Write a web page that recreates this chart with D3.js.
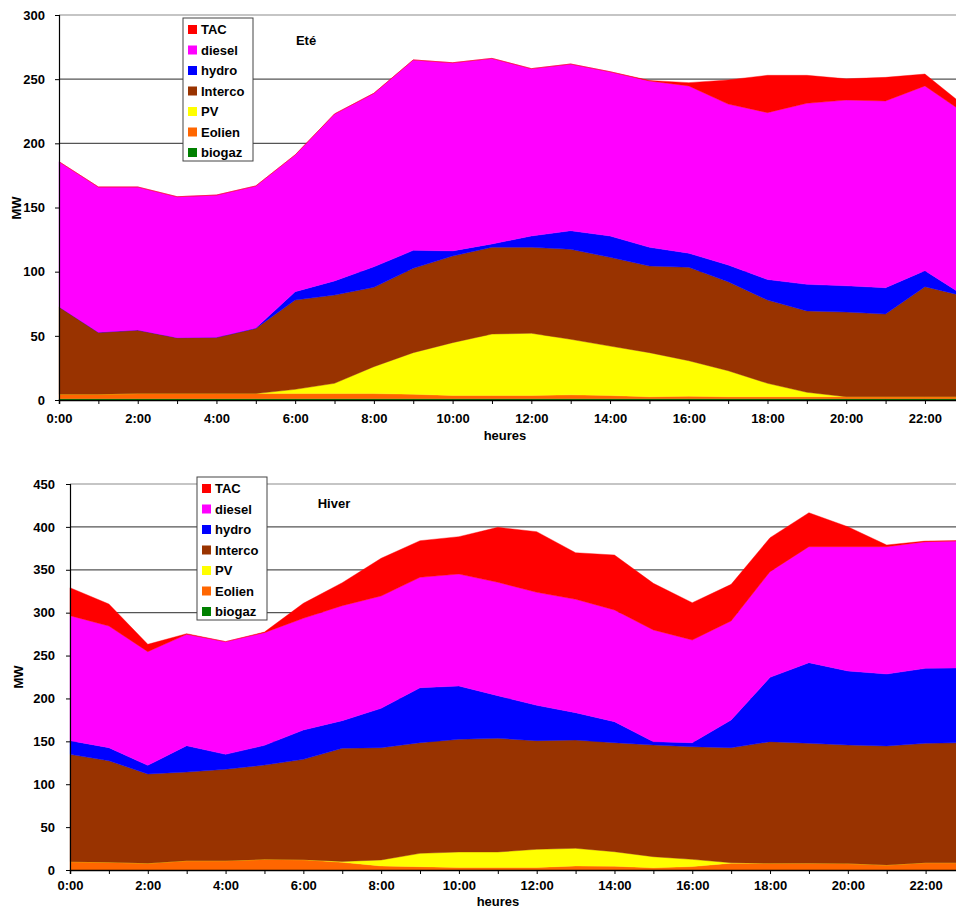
<!DOCTYPE html>
<html><head><meta charset="utf-8">
<script src="https://cdn.jsdelivr.net/npm/d3@7"></script>
<style>
html,body{margin:0;padding:0;background:#fff;}
text{font-family:"Liberation Sans",Arial,sans-serif;font-weight:bold;}
</style></head>
<body>
<svg id="c" width="956" height="908"></svg>
<script>
const hours = d3.range(0, 24);
const hourLabels = ["0:00","2:00","4:00","6:00","8:00","10:00","12:00","14:00","16:00","18:00","20:00","22:00"];
const seriesNames = ["TAC","diesel","hydro","Interco","PV","Eolien","biogaz"];
const seriesColors = ["#FF0000","#FF00FF","#0000FF","#993300","#FFFF00","#FF6600","#008000"];

// Été
const eteBiogaz = [1,1,1,1,1,1,1,1,1,1,1,1,1,1,1,1,1,1,1,1,1,1,1,1];
const eteEolien = [3.4,3.4,4,4,4,4,4,4,4,3.5,2.5,2.5,2.5,3,2.5,1.5,2,1.5,1.5,1.5,1.5,1.5,1.5,1.5];
const etePV = [0,0,0,0,0,0,3.3,8,21,32.4,41.2,47.9,48.5,43.3,38.5,34.4,27.6,20.3,10.5,3.5,0,0,0,0];
const eteInterco = [68.3,48.3,49.5,43.6,43.8,50.8,69.6,68.8,61.8,65.7,67.5,67.6,67,70.1,69.2,67.5,72.8,69.4,64.9,63.4,66,64.5,85.8,78.4];
const eteHydro = [0,0,0,0,0,0.3,6.5,11,16,14,4,2.6,8.8,14.5,16.6,14.6,11,13,16,20.7,20.5,20.5,12.5,0.4];
const eteDiesel = [113,113.3,111.5,109.8,110.9,110.7,106.6,130.1,135.2,148.4,146.6,144.6,130.4,129.9,128,129.6,130.3,125.4,130,141.1,144.7,145.5,143.9,142.3];
const eteTAC = [0,0,0,0,0,0,0,0,0,0,0,0,0,0,0,0.4,2.6,18.8,29.1,21.8,16.6,18.4,9.3,5.7];

// Hiver
const hiverBiogaz = [0,0,0,0,0,0,0,0,0,0,0,0,0,0,0,0,0,0,0,0,0,0,0,0];
const hiverEolien = [9.7,9,7.8,10.8,10.8,12.4,12,9,4.7,3.9,3,3,3,4.7,4.5,2.5,4,8,7.8,8,7.5,5.8,8.5,8.5];
const hiverPV = [0,0,0,0,0,0,0,1,7,15.5,18,18,21.1,20.6,16.8,13,8.4,0.5,0,0,0,0,0,0];
const hiverInterco = [125.1,118.4,104.1,103.4,106.6,110,117,131.9,130.9,129,131.4,132.5,126.7,126.2,127.1,130.2,131.3,134.1,141.8,139.7,138.2,138.8,139.2,139.9];
const hiverHydro = [16,15.2,10.1,30.7,17.4,22.9,34.2,32.2,45.9,64.1,62.1,49.7,41.2,31.9,24.5,3.9,4.7,32.3,75,94,86.3,83.9,87.4,87.1];
const hiverDiesel = [145.7,141.8,132.5,129.8,131.4,131.4,130.2,134,130.9,128.7,130.5,132.2,131.7,132.2,130.2,130.2,119.7,115.4,123.2,135.2,144.9,148.4,147.6,148.4];
const hiverTAC = [32.6,25.7,8.6,0.8,0,0.7,17.5,26.8,44,42.7,43.6,64.1,70.7,54.3,64.1,54.4,43.5,42.7,39.6,39.6,23.3,2,0.8,0];

const eteTicks = [0,50,100,150,200,250,300];
const hiverTicks = [0,50,100,150,200,250,300,350,400,450];

const svg = d3.select("#c");

function drawChart(cfg){
  const g = svg.append("g");
  const x = d3.scaleLinear().domain([0,23]).range([cfg.x0, cfg.x1]);
  const y = d3.scaleLinear().domain([0, cfg.ymax]).range([cfg.yb, cfg.yt]);
  const keys = ["biogaz","Eolien","PV","Interco","hydro","diesel","TAC"];
  const rows = hours.map((h,i)=>{
    const r = {h};
    keys.forEach(k=>{ r[k] = cfg.data[k][i]; });
    return r;
  });
  const stack = d3.stack().keys(keys)(rows);
  const color = d3.scaleOrdinal().domain(seriesNames).range(seriesColors);

  g.append("g").selectAll("line").data(cfg.ticks.filter(t=>t>0)).join("line")
    .attr("x1", cfg.x0).attr("x2", cfg.x1)
    .attr("y1", d=>y(d)).attr("y2", d=>y(d))
    .attr("stroke", d=> d===cfg.ymax ? "#8c8c8c" : "#555").attr("stroke-width",1.2);

  const area = d3.area().x(d=>x(d.data.h)).y0(d=>y(d[0])).y1(d=>y(d[1]));
  g.append("g").selectAll("path").data(stack).join("path")
    .attr("d", area).attr("fill", d=>color(d.key)).attr("stroke", d=>color(d.key)).attr("stroke-width",0.4);

  const yAxis = d3.axisLeft(y).tickValues(cfg.ticks).tickSize(4).tickPadding(cfg.yPad);
  const ya = g.append("g").attr("transform",`translate(${cfg.x0},0)`).call(yAxis);
  ya.select(".domain").attr("stroke","#000").attr("stroke-width",1.2);
  ya.selectAll("text").attr("font-size",13).attr("fill","#000");

  const xAxis = d3.axisBottom(x).tickValues(hours).tickSize(4).tickPadding(cfg.xPad)
    .tickFormat(d=> d%2===0 ? hourLabels[d/2] : "");
  const xa = g.append("g").attr("transform",`translate(0,${cfg.yb})`).call(xAxis);
  xa.select(".domain").attr("stroke","#000").attr("stroke-width",1.5);
  xa.selectAll("text").attr("font-size",13).attr("fill","#000");

  g.append("text").attr("x",cfg.heuresX).attr("y",cfg.heuresY).attr("text-anchor","middle").attr("font-size",13).text("heures");
  g.append("text").attr("transform",`translate(${cfg.mwX},${cfg.mwY}) rotate(-90)`).attr("text-anchor","middle").attr("font-size",13).text("MW");
  g.append("text").attr("x",cfg.titleX).attr("y",cfg.titleY).attr("text-anchor","middle").attr("font-size",13).text(cfg.title);

  const lg = g.append("g");
  lg.append("rect").attr("x",cfg.lx).attr("y",cfg.ly).attr("width",cfg.lw).attr("height",143)
    .attr("fill","#fff").attr("stroke","#444").attr("stroke-width",1);
  seriesNames.forEach((n,i)=>{
    const cy = cfg.ly + 11.5 + i*20.5;
    lg.append("rect").attr("x",cfg.lx+5).attr("y",cy-4.5).attr("width",9).attr("height",9).attr("fill",color(n));
    lg.append("text").attr("x",cfg.lx+18).attr("y",cy+4.8).attr("font-size",13).text(n);
  });
}

drawChart({x0:59, x1:964.3, yt:15, yb:400, ymax:300, ticks:eteTicks, yPad:10, xPad:10, heuresX:505, heuresY:440,
  data:{biogaz:eteBiogaz,Eolien:eteEolien,PV:etePV,Interco:eteInterco,hydro:eteHydro,diesel:eteDiesel,TAC:eteTAC},
  mwX:21, mwY:208, title:"Eté", titleX:306, titleY:45, lx:183, ly:18, lw:70});
drawChart({x0:70, x1:964.5, yt:484, yb:870, ymax:450, ticks:hiverTicks, yPad:11, xPad:7, heuresX:498, heuresY:906,
  data:{biogaz:hiverBiogaz,Eolien:hiverEolien,PV:hiverPV,Interco:hiverInterco,hydro:hiverHydro,diesel:hiverDiesel,TAC:hiverTAC},
  mwX:23, mwY:677, title:"Hiver", titleX:334, titleY:508, lx:197, ly:477, lw:70});
</script>
</body></html>
